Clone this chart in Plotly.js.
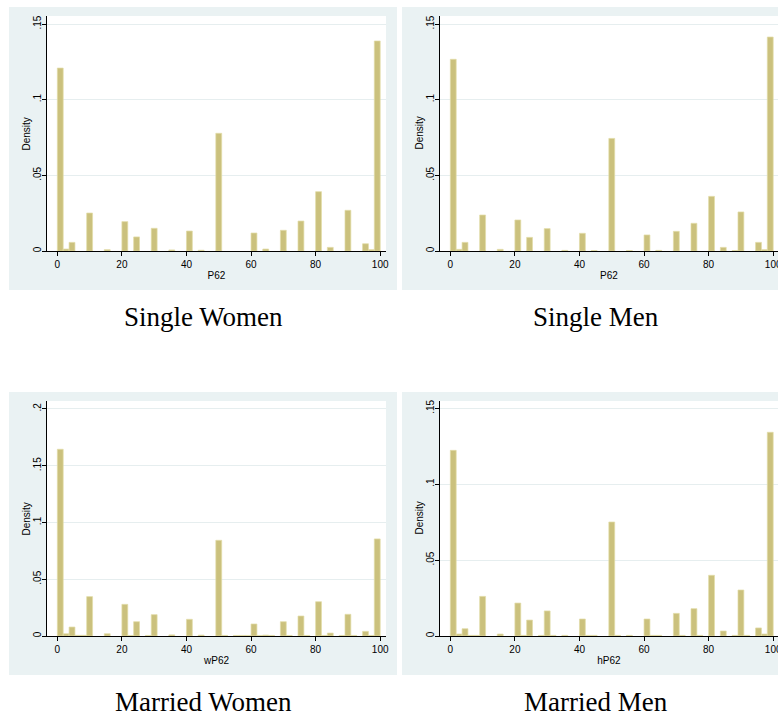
<!DOCTYPE html>
<html>
<head>
<meta charset="utf-8">
<script src="https://cdn.plot.ly/plotly-3.0.1.min.js"></script>
<style>html,body{margin:0;padding:0;background:#fff;overflow:hidden;}#chart{width:778px;height:717px;}</style>
</head>
<body>
<div id="chart"></div>
<script>
// Histogram definition (Stata default: 55 equal bins over 0..100)
const binCount = 55;
const binLo = 0;
const binHi = 100;

// Panel titles and x-variable names
const panelTitles = ["Single Women", "Single Men", "Married Women", "Married Men"];
const xVarNames = ["P62", "P62", "wP62", "hP62"];

// Tick labels
const xTickVals = [0, 20, 40, 60, 80, 100];
const xTickText = ["0", "20", "40", "60", "80", "100"];
const yTickVals15 = [0, 0.05, 0.1, 0.15];
const yTickText15 = ["0", ".05", ".1", ".15"];
const yTickVals20 = [0, 0.05, 0.1, 0.15, 0.2];
const yTickText20 = ["0", ".05", ".1", ".15", ".2"];

// Densities per bin (55 bins)
const singleWomen = [
  0.1209, 0.0013, 0.0057, 0, 0, 0.0251, 0, 0, 0.0009, 0,
  0, 0.0194, 0, 0.0093, 0, 0, 0.0150, 0, 0, 0.0007,
  0, 0, 0.0132, 0, 0.0005, 0, 0, 0.0778, 0, 0,
  0, 0, 0, 0.0119, 0, 0.0013, 0, 0, 0.0137, 0,
  0, 0.0198, 0, 0, 0.0392, 0, 0.0024, 0, 0, 0.0269,
  0, 0, 0.0048, 0.0009, 0.1388
];
const singleMen = [
  0.1267, 0.0011, 0.0057, 0, 0, 0.0238, 0, 0, 0.0011, 0,
  0, 0.0205, 0, 0.0090, 0, 0, 0.0148, 0, 0, 0.0004,
  0, 0, 0.0117, 0, 0.0003, 0, 0, 0.0744, 0, 0,
  0.0003, 0, 0, 0.0106, 0, 0.0004, 0, 0, 0.0130, 0,
  0, 0.0183, 0, 0, 0.0361, 0, 0.0024, 0, 0.0003, 0.0258,
  0, 0, 0.0057, 0.0009, 0.1414
];
const marriedWomen = [
  0.1645, 0.0020, 0.0079, 0.0006, 0.0006, 0.0347, 0, 0, 0.0020, 0,
  0, 0.0279, 0.0005, 0.0126, 0, 0.0005, 0.0188, 0, 0, 0.0010,
  0, 0, 0.0147, 0, 0.0008, 0, 0, 0.0843, 0.0005, 0,
  0.0005, 0.0005, 0.0005, 0.0106, 0.0005, 0.0008, 0.0005, 0, 0.0126, 0.0005,
  0, 0.0176, 0.0005, 0, 0.0302, 0.0005, 0.0026, 0, 0.0005, 0.0191,
  0.0005, 0, 0.0041, 0.0005, 0.0855
];
const marriedMen = [
  0.1223, 0.0013, 0.0048, 0.0004, 0.0004, 0.0261, 0, 0, 0.0013, 0,
  0, 0.0217, 0.0004, 0.0105, 0, 0.0004, 0.0165, 0.0004, 0, 0.0004,
  0, 0, 0.0112, 0.0004, 0.0004, 0, 0, 0.0751, 0.0004, 0,
  0.0004, 0, 0, 0.0112, 0.0004, 0.0004, 0, 0, 0.0149, 0.0004,
  0, 0.0180, 0.0004, 0, 0.0400, 0, 0.0033, 0, 0.0004, 0.0303,
  0.0004, 0, 0.0053, 0.0013, 0.1342
];

const binWidth = (binHi - binLo) / binCount;
const binCenters = Array.from({length: binCount}, (_, i) => binLo + (i + 0.5) * binWidth);

const W = 778, H = 717;
const px = v => v / W;
const py = v => 1 - v / H;

const barFill = "#CBC17D";
const barEdge = "#E3DCA8";
const graphBg = "#EAF2F3";
const gridCol = "#E6EEEF";

const series = [singleWomen, singleMen, marriedWomen, marriedMen];
const axisIds = ["", "2", "3", "4"];

const traces = series.map((d, k) => ({
  type: "bar",
  x: binCenters,
  y: d.map(v => (v === 0 ? null : v)),
  width: binWidth,
  xaxis: "x" + axisIds[k],
  yaxis: "y" + axisIds[k],
  marker: {color: barFill, line: {color: barEdge, width: 0.7}},
  hoverinfo: "x+y",
  showlegend: false
}));

// panel geometry (pixels)
const panels = [
  {gx0: 9, gx1: 397, gy0: 7, gy1: 290, ax0: 47, ax1: 386, ay0: 16, ay1: 251, xr: [-3.2, 101.8], yr: [0, 0.1553], tv: yTickVals15, tt: yTickText15},
  {gx0: 402, gx1: 790, gy0: 7, gy1: 290, ax0: 440, ax1: 778, ay0: 16, ay1: 251, xr: [-3.2, 101.49], yr: [0, 0.1553], tv: yTickVals15, tt: yTickText15},
  {gx0: 9, gx1: 397, gy0: 392, gy1: 675, ax0: 47, ax1: 386, ay0: 401, ay1: 636, xr: [-3.2, 101.8], yr: [0, 0.207], tv: yTickVals20, tt: yTickText20},
  {gx0: 402, gx1: 790, gy0: 392, gy1: 675, ax0: 440, ax1: 778, ay0: 401, ay1: 636, xr: [-3.2, 101.49], yr: [0, 0.1548], tv: yTickVals15, tt: yTickText15}
];

const tickFont = {family: "Liberation Sans, Arial, sans-serif", size: 10, color: "#000"};

const layout = {
  width: W, height: H,
  margin: {l: 0, r: 0, t: 0, b: 0, pad: 0},
  paper_bgcolor: "#fff",
  plot_bgcolor: "rgba(0,0,0,0)",
  showlegend: false,
  bargap: 0,
  shapes: [],
  annotations: []
};

panels.forEach((p, k) => {
  const id = axisIds[k];
  layout["xaxis" + id] = {
    domain: [px(p.ax0), Math.min(1, px(p.ax1))],
    anchor: "y" + id,
    range: p.xr,
    tickmode: "array", tickvals: xTickVals, ticktext: xTickText,
    ticks: "outside", ticklen: 4, tickwidth: 1, tickcolor: "#000",
    ticklabeloverflow: "allow",
    showline: true, linecolor: "#000", linewidth: 1,
    showgrid: false, zeroline: false,
    tickfont: tickFont,
    title: {text: xVarNames[k], font: tickFont, standoff: 2},
    fixedrange: true
  };
  layout["yaxis" + id] = {
    domain: [py(p.ay1), py(p.ay0)],
    anchor: "x" + id,
    range: p.yr,
    tickmode: "array", tickvals: p.tv, ticktext: p.tt,
    tickangle: -90,
    ticklabelstandoff: -3,
    ticks: "outside", ticklen: 4, tickwidth: 1, tickcolor: "#000",
    showline: true, linecolor: "#000", linewidth: 1,
    showgrid: true, gridcolor: gridCol, gridwidth: 1,
    zeroline: false,
    tickfont: tickFont,
    fixedrange: true
  };
  layout.shapes.push({type: "rect", xref: "paper", yref: "paper", layer: "below",
    x0: px(p.gx0), x1: px(p.gx1), y0: py(p.gy1), y1: py(p.gy0),
    fillcolor: graphBg, line: {width: 0}});
  layout.shapes.push({type: "rect", xref: "paper", yref: "paper", layer: "below",
    x0: px(p.ax0), x1: px(p.ax1), y0: py(p.ay1), y1: py(p.ay0),
    fillcolor: "#fff", line: {width: 0}});
  layout.annotations.push({
    xref: "paper", yref: "paper",
    x: px(p.ax0 - 21), y: py((p.ay0 + p.ay1) / 2),
    text: "Density", textangle: -90, showarrow: false,
    xanchor: "center", yanchor: "middle", font: tickFont
  });
  layout.annotations.push({
    xref: "paper", yref: "paper",
    x: px((p.gx0 + p.gx1) / 2), y: py(p.gy1 + 27),
    text: panelTitles[k], showarrow: false,
    xanchor: "center", yanchor: "middle",
    font: {family: "Liberation Serif, Times New Roman, serif", size: 27, color: "#000"}
  });
});

Plotly.newPlot("chart", traces, layout, {displayModeBar: false, staticPlot: true});
</script>
</body>
</html>
